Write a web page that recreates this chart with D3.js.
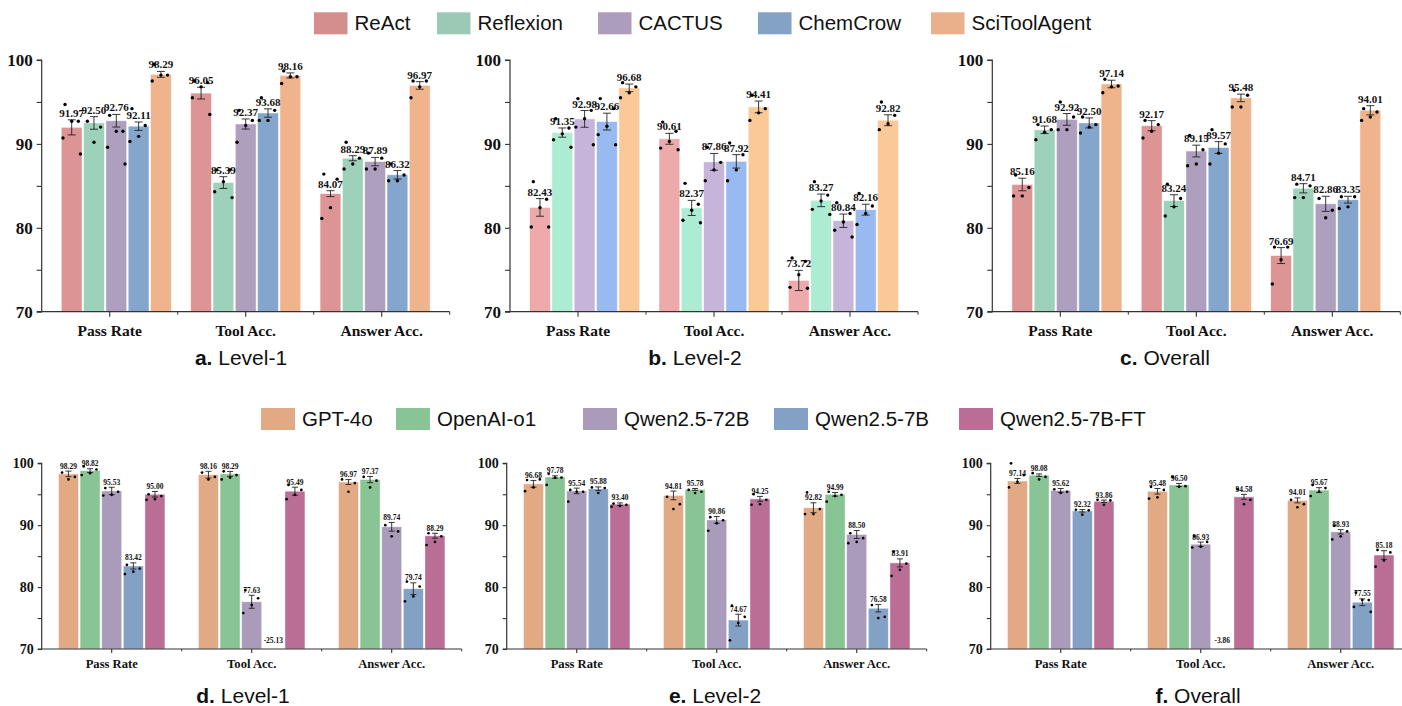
<!DOCTYPE html>
<html>
<head>
<meta charset="utf-8">
<script src="https://cdn.jsdelivr.net/npm/d3@7"></script>
<style>
  html, body { margin: 0; padding: 0; background: #fff; }
  svg { display: block; }
</style>
</head>
<body>
<svg id="chart" width="1402" height="706"></svg>
<script>
// ---------- categories ----------
const metrics = ["Pass Rate", "Tool Acc.", "Answer Acc."];
const agents = ["ReAct", "Reflexion", "CACTUS", "ChemCrow", "SciToolAgent"];
const llms = ["GPT-4o", "OpenAI-o1", "Qwen2.5-72B", "Qwen2.5-7B", "Qwen2.5-7B-FT"];
const yTicks = [70, 75, 80, 85, 90, 95, 100];

// ---------- colours ----------
const agentColors = ["#dc9494", "#9dd1ba", "#ae9fbf", "#85a6cc", "#f0b48c"];
const agentColorsBright = ["#eeaaaa", "#abecd3", "#c6b4db", "#99baf0", "#fbc998"];
const agentLegendColors = ["#d48e8e", "#9cc9b5", "#ab9dbb", "#84a2c4", "#e9b08b"];
const llmColors = ["#e2aa84", "#88c494", "#aa9bba", "#82a1c5", "#ba6e95"];

// ---------- a. agents, Level-1 (rows: agents, cols: metrics) ----------
const agentL1Mean = [[91.97, 96.05, 84.07], [92.50, 85.39, 88.29], [92.76, 92.37, 87.89], [92.11, 93.68, 86.32], [98.29, 98.16, 96.97]];
const agentL1Err = [[0.9, 0.7, 0.35], [0.75, 0.7, 0.3], [0.75, 0.6, 0.5], [0.5, 0.5, 0.5], [0.35, 0.3, 0.45]];
const agentL1Runs = [
  [[94.7, 92.7, 92.7, 90.7, 88.8], [97.5, 97.3, 96.8, 95.5, 93.5], [86.4, 85.8, 82.4, 81.1]],
  [[92.7, 92.0, 90.2], [86.9, 86.9, 85.5, 84.3, 83.6], [90.2, 88.3, 87.6, 87.0]],
  [[93.4, 91.5, 91.5, 89.6, 87.6], [94.0, 92.8, 92.2, 90.2], [88.9, 88.3, 87.0, 87.0]],
  [[94.2, 92.2, 90.9, 90.3], [95.5, 94.0, 92.8, 92.8], [87.6, 86.3, 85.6, 85.6]],
  [[99.5, 98.2, 98.2, 97.5], [98.7, 98.0, 98.0, 97.2], [97.5, 97.5, 96.8, 95.5]]
];

// ---------- b. agents, Level-2 ----------
const agentL2Mean = [[82.43, 90.61, 73.72], [91.35, 82.37, 83.27], [92.98, 87.86, 80.84], [92.66, 87.92, 82.16], [96.68, 94.41, 92.82]];
const agentL2Err = [[1.05, 0.65, 1.2], [0.55, 0.9, 0.75], [1.0, 1.0, 0.8], [1.0, 0.8, 0.65], [0.45, 0.7, 0.65]];
const agentL2Runs = [
  [[85.5, 83.4, 82.4, 80.1, 80.1], [92.6, 91.5, 90.3, 89.5, 89.3], [76.4, 76.0, 74.4, 72.9, 72.8]],
  [[93.0, 91.9, 91.2, 90.5, 89.6], [85.3, 82.8, 82.1, 80.9, 80.6], [85.5, 83.9, 83.2, 82.2, 81.6]],
  [[95.4, 94.0, 93.0, 92.0, 89.9], [89.6, 87.8, 86.9, 85.6], [83.0, 81.7, 80.7, 79.7, 78.9]],
  [[95.4, 94.2, 92.1, 91.1, 89.9], [90.1, 88.7, 86.9, 85.6], [84.1, 82.6, 81.7, 80.4]],
  [[97.3, 96.8, 96.1, 95.5], [95.8, 94.2, 93.7, 92.8], [95.0, 93.4, 92.4, 91.7]]
];

// ---------- c. agents, Overall ----------
const agentAllMean = [[85.16, 92.17, 76.69], [91.68, 83.24, 84.71], [92.92, 89.15, 82.86], [92.50, 89.57, 83.35], [97.14, 95.48, 94.01]];
const agentAllErr = [[0.75, 0.6, 0.95], [0.45, 0.7, 0.55], [0.7, 0.7, 0.9], [0.6, 0.7, 0.4], [0.45, 0.45, 0.55]];
const agentAllRuns = [
  [[86.3, 84.8, 83.8, 83.8], [92.8, 92.3, 91.5, 90.7], [77.7, 77.7, 76.2, 73.3]],
  [[92.3, 91.7, 91.4, 90.5], [85.2, 83.5, 82.5, 81.4], [85.2, 85.0, 83.6, 83.6]],
  [[95.0, 93.2, 91.7, 91.7], [91.0, 89.3, 87.6, 87.4], [83.5, 82.1, 81.2]],
  [[93.2, 92.3, 92.0, 91.3], [91.7, 90.0, 88.9, 87.6], [83.7, 83.7, 82.5, 82.3]],
  [[97.7, 96.9, 96.8, 96.1], [96.4, 95.8, 94.4, 94.4], [94.2, 93.8, 93.2, 92.8]]
];

// ---------- d. LLM backbones, Level-1 ----------
const llmL1Mean = [[98.29, 98.16, 96.97], [98.82, 98.29, 97.37], [95.53, 77.63, 89.74], [83.42, -25.13, 79.74], [95.00, 95.49, 88.29]];
const llmL1Err = [[0.45, 0.55, 0.4], [0.3, 0.4, 0.5], [0.6, 1.05, 0.7], [0.5, 0, 0.95], [0.45, 0.65, 0.4]];
const llmL1Runs = [
  [[98.5, 97.8, 97.4], [98.5, 97.8, 97.4], [97.4, 96.8, 95.4]],
  [[99.5, 99.0, 98.4, 98.1], [98.7, 98.1, 97.7, 97.4], [97.8, 97.2, 96.1]],
  [[96.0, 95.4, 94.9, 94.8], [79.5, 78.2, 77.1, 75.8], [90.0, 89.0, 88.2]],
  [[83.6, 83.0, 82.5, 82.1], [], [80.9, 80.1, 78.5, 77.7]],
  [[95.0, 94.7, 94.2, 94.1], [96.5, 95.7, 94.9, 94.2], [88.7, 88.2, 87.3, 86.8]]
];

// ---------- e. LLM backbones, Level-2 ----------
const llmL2Mean = [[96.68, 94.81, 92.82], [97.78, 95.78, 94.99], [95.54, 90.86, 88.50], [95.88, 74.67, 76.58], [93.40, 94.25, 83.91]];
const llmL2Err = [[0.55, 0.7, 0.8], [0.2, 0.15, 0.3], [0.45, 0.55, 0.65], [0.3, 0.95, 0.6], [0.2, 0.4, 0.65]];
const llmL2Runs = [
  [[97.3, 97.4, 96.1, 95.5], [94.6, 93.4, 92.6], [95.3, 92.6, 91.8, 91.8]],
  [[98.3, 97.7, 97.7, 96.5], [95.7, 95.4, 95.2], [95.4, 94.9, 94.7, 93.8]],
  [[95.7, 95.4, 95.4, 93.8], [91.3, 90.8, 90.3, 89.1], [88.7, 87.9, 87.3, 87.1]],
  [[96.1, 96.0, 95.2], [77.0, 75.2, 74.2, 71.4], [77.1, 75.2, 75.0]],
  [[93.5, 93.3, 93.1, 93.0], [95.0, 94.1, 93.4, 93.3], [85.7, 83.8, 82.8, 81.8]]
];

// ---------- f. LLM backbones, Overall ----------
const llmAllMean = [[97.14, 95.48, 94.01], [98.08, 96.50, 95.67], [95.62, 86.93, 88.93], [92.32, -3.86, 77.55], [93.86, 94.58, 85.18]];
const llmAllErr = [[0.4, 0.45, 0.4], [0.2, 0.25, 0.4], [0.3, 0.35, 0.35], [0.2, 0, 0.55], [0.2, 0.4, 0.7]];
const llmAllRuns = [
  [[100.0, 98.1, 97.0, 96.1], [96.2, 95.7, 94.5, 94.3], [94.1, 93.4, 92.9]],
  [[98.4, 97.8, 97.4], [97.8, 96.3, 96.2], [96.5, 96.0, 95.4, 94.7]],
  [[95.8, 95.4, 95.2], [88.2, 87.3, 86.5, 86.4], [89.9, 89.0, 88.2, 87.7]],
  [[92.5, 92.4, 91.7], [], [79.1, 77.9, 77.9, 76.8, 76.0]],
  [[94.1, 94.0, 93.3], [95.8, 94.1, 93.4], [86.0, 85.6, 84.3, 83.3]]
];

// ---------- drawing ----------
const SERIF = "'Times New Roman', 'Liberation Serif', serif";
const SANS = "Arial, 'Liberation Sans', Helvetica, sans-serif";
const svg = d3.select("#chart");

// horizontal spread of the individual run markers, as a fraction of bar width
const spread = [-0.32, 0.32, 0.0, -0.42, 0.42];

function drawPanel(o) {
  const g = svg.append("g");
  const y = d3.scaleLinear().domain([70, 100]).range([o.yB, o.yT]);
  const xCat = d3.scaleBand().domain(metrics).range([o.x0, o.x0 + o.w]);
  const xGroup = d3.scalePoint().domain(metrics)
    .range([xCat("Pass Rate") + xCat.bandwidth() / 2 + o.inset,
            xCat("Answer Acc.") + xCat.bandwidth() / 2 - o.inset]);
  const xSeries = d3.scaleBand().domain(o.series)
    .range([-o.groupW / 2, o.groupW / 2]).paddingInner(o.pad);
  const bw = xSeries.bandwidth();

  const clipId = "clip" + o.id;
  svg.append("clipPath").attr("id", clipId).append("rect")
    .attr("x", o.x0).attr("y", o.yT - 40).attr("width", o.w + 10).attr("height", o.yB - o.yT + 40);

  const plot = g.append("g").attr("clip-path", `url(#${clipId})`);

  o.series.forEach((s, si) => {
    metrics.forEach((m, mi) => {
      const v = o.mean[si][mi];
      const e = o.err[si][mi];
      const cx = xGroup(m) + xSeries(s) + bw / 2;
      const top = y(Math.max(v, 70));
      // bar
      plot.append("rect")
        .attr("x", cx - bw / 2).attr("y", top)
        .attr("width", bw).attr("height", Math.max(0, o.yB - top))
        .attr("fill", o.colors[si])
        .attr("stroke", "#ffffff").attr("stroke-opacity", 0.55).attr("stroke-width", 0.8);
      // error bar
      let labelY;
      if (v > 70 && e > 0) {
        const y1 = y(v + e), y2 = y(v - e);
        const cap = o.cap / 2;
        plot.append("path")
          .attr("d", `M${cx},${y1}V${y2}M${cx - cap},${y1}H${cx + cap}M${cx - cap},${y2}H${cx + cap}`)
          .attr("stroke", "#222").attr("stroke-width", 0.9).attr("fill", "none");
        labelY = y1 - o.labelGap;
      } else {
        labelY = (v > 70 ? top : o.yB) - o.clipLabelGap;
      }
      // value label
      g.append("text")
        .attr("x", cx).attr("y", labelY)
        .attr("text-anchor", "middle")
        .attr("font-family", SERIF).attr("font-weight", "bold")
        .attr("font-size", o.valFont).attr("fill", "#111")
        .text(v.toFixed(2));
      // individual runs
      o.runs[si][mi].forEach((r, ri) => {
        g.append("circle")
          .attr("cx", cx + spread[ri % spread.length] * bw)
          .attr("cy", y(r))
          .attr("r", o.dotR).attr("fill", "#000");
      });
    });
  });

  // y axis
  const yAxis = d3.axisLeft(y).tickValues(yTicks).tickSize(o.tick)
    .tickFormat(d => d % 10 === 0 ? d : "");
  const ya = g.append("g").attr("transform", `translate(${o.x0},0)`).call(yAxis);
  ya.select(".domain").attr("stroke", "#333").attr("stroke-width", 1.2)
    .attr("d", `M${-o.tick},${o.yT}H0V${o.yB}H${-o.tick}`);
  ya.selectAll(".tick line").attr("stroke", "#333").attr("stroke-width", 1.1);
  ya.selectAll(".tick text").attr("font-family", SERIF).attr("font-weight", "bold")
    .attr("font-size", o.yFont).attr("fill", "#111").attr("dx", -o.yPad);

  // x axis
  const xAxis = d3.axisBottom(xCat).tickSize(o.tick).tickPadding(o.xPad);
  const xa = g.append("g").attr("transform", `translate(0,${o.yB})`).call(xAxis);
  xa.select(".domain").attr("stroke", "#333").attr("stroke-width", 1.2)
    .attr("d", `M${o.x0},0H${o.x0 + o.w}`);
  xa.selectAll(".tick line").attr("stroke", "#333").attr("stroke-width", 1.1);
  xa.selectAll(".tick text").attr("font-family", SERIF).attr("font-weight", "bold")
    .attr("font-size", o.xFont).attr("fill", "#111");
  // minor ticks at the category boundaries
  metrics.slice(1).concat(["end"]).forEach((m, i) => {
    const bx = o.x0 + xCat.step() * (i + 1);
    xa.append("line").attr("x1", bx).attr("x2", bx).attr("y1", 0).attr("y2", o.tick * 0.6)
      .attr("stroke", "#333").attr("stroke-width", 1);
  });

  // panel title
  const t = svg.append("text")
    .attr("x", o.titleX).attr("y", o.titleY)
    .attr("text-anchor", "middle")
    .attr("font-family", SANS).attr("font-size", o.titleFont).attr("fill", "#111");
  t.append("tspan").attr("font-weight", "bold").text(o.letter + ".");
  t.append("tspan").text(" " + o.title);
}

function drawLegend(names, colors, starts, yTop, sw, sh, font) {
  const g = svg.append("g");
  names.forEach((n, i) => {
    g.append("rect").attr("x", starts[i]).attr("y", yTop)
      .attr("width", sw).attr("height", sh).attr("fill", colors[i]);
    g.append("text").attr("x", starts[i] + sw + 7).attr("y", yTop + sh / 2 + 7)
      .attr("font-family", SANS).attr("font-size", font).attr("fill", "#111").text(n);
  });
}

const topCommon = {
  w: 408, yT: 60, yB: 311.7, inset: 6.6, groupW: 110, pad: 0.07,
  cap: 8, dotR: 1.7, labelGap: 3, clipLabelGap: 6, valFont: 11,
  tick: 5, yFont: 17, yPad: 1, xFont: 15.5, xPad: 8, titleFont: 21, titleY: 365,
  series: agents
};
const botCommon = {
  w: 420, yT: 463.3, yB: 649, inset: 0, groupW: 106.5, pad: 0.075,
  cap: 6, dotR: 1.35, labelGap: 2.5, clipLabelGap: 6, valFont: 7.5,
  tick: 4, yFont: 14, yPad: 1, xFont: 12.6, xPad: 6, titleFont: 21, titleY: 703,
  series: llms
};

drawPanel(Object.assign({}, topCommon, { id: "a", x0: 41.7, mean: agentL1Mean, err: agentL1Err, runs: agentL1Runs, colors: agentColors, letter: "a", title: "Level-1", titleX: 241 }));
drawPanel(Object.assign({}, topCommon, { id: "b", x0: 510, mean: agentL2Mean, err: agentL2Err, runs: agentL2Runs, colors: agentColorsBright, letter: "b", title: "Level-2", titleX: 695 }));
drawPanel(Object.assign({}, topCommon, { id: "c", x0: 992.3, mean: agentAllMean, err: agentAllErr, runs: agentAllRuns, colors: agentColors, letter: "c", title: "Overall", titleX: 1165 }));

drawPanel(Object.assign({}, botCommon, { id: "d", x0: 41.7, mean: llmL1Mean, err: llmL1Err, runs: llmL1Runs, colors: llmColors, letter: "d", title: "Level-1", titleX: 243 }));
drawPanel(Object.assign({}, botCommon, { id: "e", x0: 506.7, mean: llmL2Mean, err: llmL2Err, runs: llmL2Runs, colors: llmColors, letter: "e", title: "Level-2", titleX: 715 }));
drawPanel(Object.assign({}, botCommon, { id: "f", x0: 990.7, mean: llmAllMean, err: llmAllErr, runs: llmAllRuns, colors: llmColors, letter: "f", title: "Overall", titleX: 1198 }));

drawLegend(agents, agentLegendColors, [314, 437, 598, 758, 931], 12.3, 33.5, 22, 20.5);
drawLegend(llms, llmColors, [261, 396, 583, 774, 959], 408, 34, 22, 20.5);
</script>
</body>
</html>
